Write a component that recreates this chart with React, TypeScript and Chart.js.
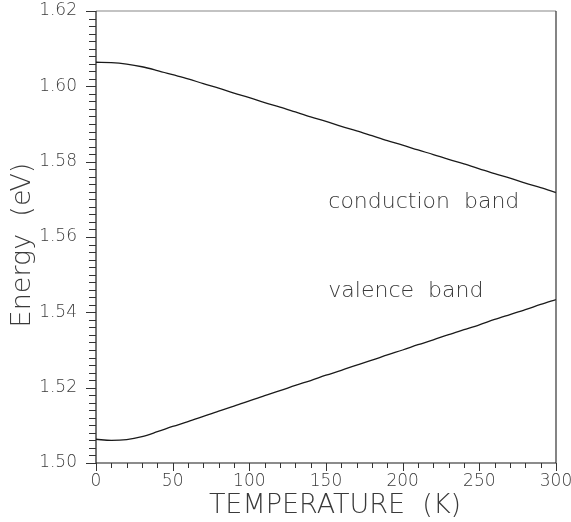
import React, { useEffect, useRef } from "react";
import { Chart, registerables } from "chart.js";

Chart.register(...registerables);

// Temperature grid (K)
const TEMPS = [
  0, 10, 20, 30, 40, 50, 60, 70, 80, 90, 100, 110, 120, 130, 140, 150, 160,
  170, 180, 190, 200, 210, 220, 230, 240, 250, 260, 270, 280, 290, 300,
];

// Conduction band edge energy (eV)
const CONDUCTION = [
  1.6064, 1.6063, 1.6059, 1.6052, 1.6042, 1.6031, 1.602, 1.6007, 1.5995,
  1.5982, 1.597, 1.5957, 1.5945, 1.5932, 1.5919, 1.5907, 1.5894, 1.5882,
  1.5869, 1.5856, 1.5844, 1.5831, 1.5819, 1.5806, 1.5794, 1.5781, 1.5768,
  1.5756, 1.5743, 1.5731, 1.5718,
];

// Valence band energy (eV)
const VALENCE = [
  1.5063, 1.506, 1.5062, 1.507, 1.5083, 1.5097, 1.511, 1.5124, 1.5138,
  1.5151, 1.5165, 1.5179, 1.5192, 1.5206, 1.5219, 1.5233, 1.5246, 1.526,
  1.5273, 1.5287, 1.53, 1.5314, 1.5327, 1.5341, 1.5354, 1.5367, 1.5381,
  1.5394, 1.5407, 1.5421, 1.5434,
];

// Axis ranges and tick spacing
const X_MIN = 0;
const X_MAX = 300;
const X_MAJOR = 50;
const X_MINOR_DIV = 5;
const Y_MIN = 1.5;
const Y_MAX = 1.62;
const Y_MAJOR = 0.02;
const Y_MINOR_DIV = 10;

// Curve labels: [text, temperature, energy] anchors
const CURVE_LABELS: [string, number, number][] = [
  ["conduction  band", 151.5, 1.5677],
  ["valence  band", 151.5, 1.5441],
];

const X_TITLE = "TEMPERATURE  (K)";
const Y_TITLE = "Energy  (eV)";

const FONT = "'DejaVu Sans', 'Liberation Sans', sans-serif";
const INK = "#1a1a1a";
const TEXT = "#3a3a3a";

const framePlugin = {
  id: "frameAndTicks",
  afterDraw(chart: any) {
    const { ctx, chartArea } = chart;
    const { left, right, top, bottom } = chartArea;
    const xs = chart.scales.x;
    const ys = chart.scales.y;
    ctx.save();

    // box
    ctx.lineWidth = 1.2;
    ctx.strokeStyle = "#888";
    ctx.beginPath();
    ctx.moveTo(left, top);
    ctx.lineTo(right, top);
    ctx.stroke();
    ctx.strokeStyle = "#333";
    ctx.beginPath();
    ctx.moveTo(right, top);
    ctx.lineTo(right, bottom);
    ctx.stroke();
    ctx.strokeStyle = INK;
    ctx.beginPath();
    ctx.moveTo(left, top);
    ctx.lineTo(left, bottom);
    ctx.lineTo(right, bottom);
    ctx.stroke();

    // y ticks (outside, left)
    ctx.lineWidth = 1;
    ctx.strokeStyle = "#333";
    const yCount = Math.round((Y_MAX - Y_MIN) / (Y_MAJOR / Y_MINOR_DIV));
    for (let i = 0; i <= yCount; i++) {
      const v = Y_MIN + (i * Y_MAJOR) / Y_MINOR_DIV;
      const py = Math.round(ys.getPixelForValue(v)) + 0.5;
      const len = i % Y_MINOR_DIV === 0 ? 10 : 7;
      ctx.beginPath();
      ctx.moveTo(left - len, py);
      ctx.lineTo(left, py);
      ctx.stroke();
    }

    // x ticks (outside, below)
    const xCount = Math.round((X_MAX - X_MIN) / (X_MAJOR / X_MINOR_DIV));
    for (let i = 0; i <= xCount; i++) {
      const v = X_MIN + (i * X_MAJOR) / X_MINOR_DIV;
      const px = Math.round(xs.getPixelForValue(v)) + 0.5;
      const len = i % X_MINOR_DIV === 0 ? 8 : 5;
      ctx.beginPath();
      ctx.moveTo(px, bottom);
      ctx.lineTo(px, bottom + len);
      ctx.stroke();
    }

    // curve labels
    ctx.fillStyle = TEXT;
    ctx.font = `200 22px ${FONT}`;
    ctx.textAlign = "left";
    ctx.textBaseline = "alphabetic";
    for (const [txt, t, e] of CURVE_LABELS) {
      ctx.fillText(txt, xs.getPixelForValue(t), ys.getPixelForValue(e));
    }

    // axis titles
    ctx.font = `200 27px ${FONT}`;
    ctx.textAlign = "center";
    ctx.fillText(X_TITLE, (left + right) / 2 + 9, 513);
    ctx.save();
    ctx.translate(30, (top + bottom) / 2 + 8);
    ctx.rotate(-Math.PI / 2);
    ctx.fillText(Y_TITLE, 0, 0);
    ctx.restore();

    ctx.restore();
  },
};

export default function App() {
  const canvasRef = useRef<HTMLCanvasElement | null>(null);

  useEffect(() => {
    const canvas = canvasRef.current;
    if (!canvas) return;
    const lineStyle = {
      borderColor: INK,
      borderWidth: 1.3,
      pointRadius: 0,
      fill: false,
      tension: 0.3,
      cubicInterpolationMode: "monotone" as const,
    };
    const chart = new Chart(canvas, {
      type: "line",
      data: {
        datasets: [
          {
            label: "conduction band",
            data: TEMPS.map((t, i) => ({ x: t, y: CONDUCTION[i] })),
            ...lineStyle,
          },
          {
            label: "valence band",
            data: TEMPS.map((t, i) => ({ x: t, y: VALENCE[i] })),
            ...lineStyle,
          },
        ],
      },
      options: {
        animation: false,
        responsive: false,
        devicePixelRatio: 1,
        layout: { padding: { left: 0, top: 11, right: 15, bottom: 0 } },
        plugins: {
          legend: { display: false },
          tooltip: { enabled: false },
        },
        scales: {
          x: {
            type: "linear",
            min: X_MIN,
            max: X_MAX,
            grid: { display: false, drawTicks: false },
            border: { display: false },
            ticks: {
              stepSize: X_MAJOR,
              autoSkip: false,
              maxRotation: 0,
              padding: 8,
              color: TEXT,
              font: { family: FONT, size: 17, weight: "200" },
            },
            afterFit(scale: any) {
              scale.height = 59;
              scale.paddingLeft = 0;
              scale.paddingRight = 0;
            },
          },
          y: {
            type: "linear",
            min: Y_MIN,
            max: Y_MAX,
            grid: { display: false, drawTicks: false },
            border: { display: false },
            ticks: {
              stepSize: Y_MAJOR,
              autoSkip: false,
              padding: 19,
              color: TEXT,
              font: { family: FONT, size: 17, weight: "200" },
              callback: (v: any) => Number(v).toFixed(2),
            },
            afterFit(scale: any) {
              scale.width = 96;
              scale.paddingTop = 0;
              scale.paddingBottom = 0;
            },
          },
        },
      },
      plugins: [framePlugin],
    });
    return () => chart.destroy();
  }, []);

  return (
    <div style={{ position: "absolute", left: 0, top: 0, width: 571, height: 522, background: "#fff" }}>
      <canvas ref={canvasRef} width={571} height={522} />
    </div>
  );
}
